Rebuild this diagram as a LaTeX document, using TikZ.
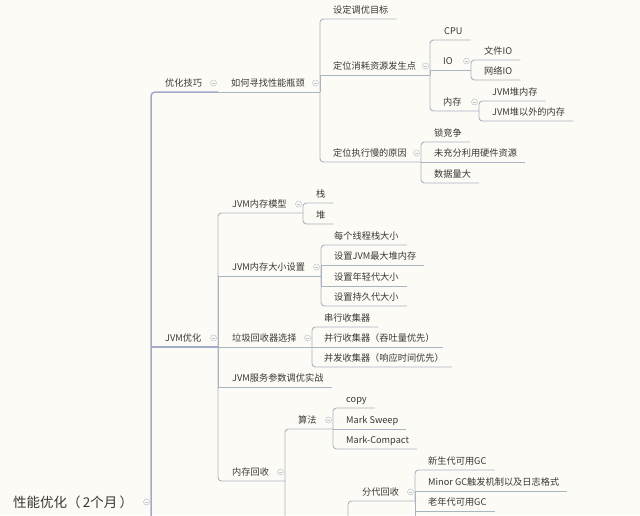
\documentclass[tikz,border=0pt]{standalone}
\usepackage{fontspec}
\newfontfamily\cjk{Noto Sans CJK SC}
\definecolor{bgc}{HTML}{FDFBF5}
\definecolor{linec}{HTML}{AAB3C2}
\definecolor{trunkc}{HTML}{A2AACA}
\definecolor{txtc}{HTML}{383838}
\definecolor{foldc}{HTML}{BFC4CC}
% leaf: name, text x, underline y, text
\newcommand\tleaf[4]{%
  \node[topic] (#1) at (#2,#3-5.5) {#4};
  \coordinate (#1-j) at ([xshift=8pt,yshift=-5.5pt]#1.base east);}
% branch: name, text x, underline y, junction x, text
\newcommand\tbranch[5]{%
  \node[topic] (#1) at (#2,#3-5.5) {#5};
  \coordinate (#1-j) at (#4,#3);
  \node[foldmark] (#1-f) at (#4-4.5,#3-9) {};}
\begin{document}
\begin{tikzpicture}[x=1pt,y=-1pt,
  topic/.style={font=\cjk\fontsize{9.2}{11}\selectfont, text=txtc, inner sep=0pt, anchor=base west},
  roottopic/.style={font=\cjk\fontsize{13.5}{15}\selectfont, text=txtc, inner sep=0pt, anchor=base west},
  foldmark/.style={circle, draw=foldc, line width=0.5pt, minimum size=6pt, inner sep=0pt,
    path picture={\draw[foldc, line width=0.5pt]
      ([xshift=-1.6pt]path picture bounding box.center) -- ([xshift=1.6pt]path picture bounding box.center);}},
  link/.style={draw=linec, line width=0.9pt, rounded corners=3.5pt},
  linkmid/.style={draw=linec, line width=0.9pt},
  trunk/.style={draw=trunkc, line width=1.5pt, rounded corners=4pt}]
\useasboundingbox (0,0) rectangle (640,515);
\clip (0,0) rectangle (640,515);
\fill[bgc] (0,0) rectangle (640,515);

% root
\node[roottopic] (root) at (13,507) {性能优化（\,2个月\,）};
\node[foldmark] (root-f) at (146.5,502) {};
\coordinate (root-j) at (151,560);

% level 1
\tbranch{youhua}{165}{92}{218}{优化技巧}
\tbranch{jvm}{165}{347}{218}{JVM优化}

% 优化技巧
\tbranch{ruhe}{231}{92}{320}{如何寻找性能瓶颈}
\tleaf{mubiao}{333}{19}{设定调优目标}
\tbranch{ziyuan}{333}{75}{430}{定位消耗资源发生点}
\tleaf{cpu}{444}{40}{CPU}
\tbranch{io}{443}{70}{471}{IO}
\tleaf{wjio}{484}{60}{文件IO}
\tleaf{wlio}{484}{80}{网络IO}
\tbranch{nc}{443}{111}{479}{内存}
\tleaf{dui}{492}{101}{JVM堆内存}
\tleaf{duiw}{492}{121}{JVM堆以外的内存}
\tbranch{man}{333}{162}{421}{定位执行慢的原因}
\tleaf{suo}{434}{142}{锁竞争}
\tleaf{yj}{434}{162}{未充分利用硬件资源}
\tleaf{sjl}{434}{183}{数据量大}

% JVM优化
\tbranch{mx}{232}{213}{303}{JVM内存模型}
\tleaf{zhan}{316}{203}{栈}
\tleaf{duim}{316}{224}{堆}
\tbranch{dx}{232}{276}{321}{JVM内存大小设置}
\tleaf{sa}{334}{245}{每个线程栈大小}
\tleaf{sb}{334}{265}{设置JVM最大堆内存}
\tleaf{sc}{334}{286}{设置年轻代大小}
\tleaf{sd}{334}{306}{设置持久代大小}
\tbranch{lj}{232}{347}{312}{垃圾回收器选择}
\tleaf{ca}{324}{327}{串行收集器}
\tleaf{cb}{324}{347}{并行收集器（吞吐量优先）}
\tleaf{cc}{324}{367}{并发收集器（响应时间优先）}
\tleaf{sz}{232}{387}{JVM服务参数调优实战}
\tbranch{hs}{232}{481}{285}{内存回收}
\tbranch{sf}{298}{429}{333}{算法}
\tleaf{aa}{346}{408}{copy}
\tleaf{ab}{346}{429}{Mark Sweep}
\tleaf{ac}{346}{449}{Mark-Compact}
\coordinate (hid-j) at (348,560);
\tbranch{fd}{362}{501}{415}{分代回收}
\tleaf{ga}{428}{470}{新生代可用GC}
\tleaf{gb}{428}{491}{Minor GC触发机制以及日志格式}
\tleaf{gc}{428}{511}{老年代可用GC}
\coordinate (fd-more) at (415,560);

% trunk
\draw[trunk] (root-j) |- (youhua-j);
\draw[trunk] (root-j |- jvm-j) -- (jvm-j);

% connectors
\draw[linkmid] (youhua-j) -- (ruhe-j);
\draw[link] (ruhe-j) |- (mubiao-j);
\draw[linkmid] (ruhe-j) |- (ziyuan-j);
\draw[link] (ruhe-j) |- (man-j);
\draw[link] (ziyuan-j) |- (cpu-j);
\draw[linkmid] (ziyuan-j) |- (io-j);
\draw[link] (ziyuan-j) |- (nc-j);
\draw[link] (io-j) |- (wjio-j);
\draw[link] (io-j) |- (wlio-j);
\draw[link] (nc-j) |- (dui-j);
\draw[link] (nc-j) |- (duiw-j);
\draw[link] (man-j) |- (suo-j);
\draw[linkmid] (man-j) -- (yj-j);
\draw[link] (man-j) |- (sjl-j);

\draw[link] (jvm-j) |- (mx-j);
\draw[linkmid] (jvm-j) |- (dx-j);
\draw[linkmid] (jvm-j) -- (lj-j);
\draw[linkmid] (jvm-j) |- (sz-j);
\draw[link] (jvm-j) |- (hs-j);
\draw[link] (mx-j) |- (zhan-j);
\draw[link] (mx-j) |- (duim-j);
\draw[link] (dx-j) |- (sa-j);
\draw[linkmid] (dx-j) |- (sb-j);
\draw[linkmid] (dx-j) |- (sc-j);
\draw[link] (dx-j) |- (sd-j);
\draw[link] (lj-j) |- (ca-j);
\draw[linkmid] (lj-j) -- (cb-j);
\draw[link] (lj-j) |- (cc-j);
\draw[link] (hs-j) |- (sf-j);
\draw[link] (hs-j) |- (hid-j);
\draw[link] (sf-j) |- (aa-j);
\draw[linkmid] (sf-j) -- (ab-j);
\draw[link] (sf-j) |- (ac-j);
\draw[link] (hid-j) |- (fd-j);
\draw[link] (fd-j) |- (ga-j);
\draw[linkmid] (fd-j) |- (gb-j);
\draw[linkmid] (fd-j) |- (gc-j);
\draw[linkmid] (fd-j) -- (fd-more);
\end{tikzpicture}
\end{document}
